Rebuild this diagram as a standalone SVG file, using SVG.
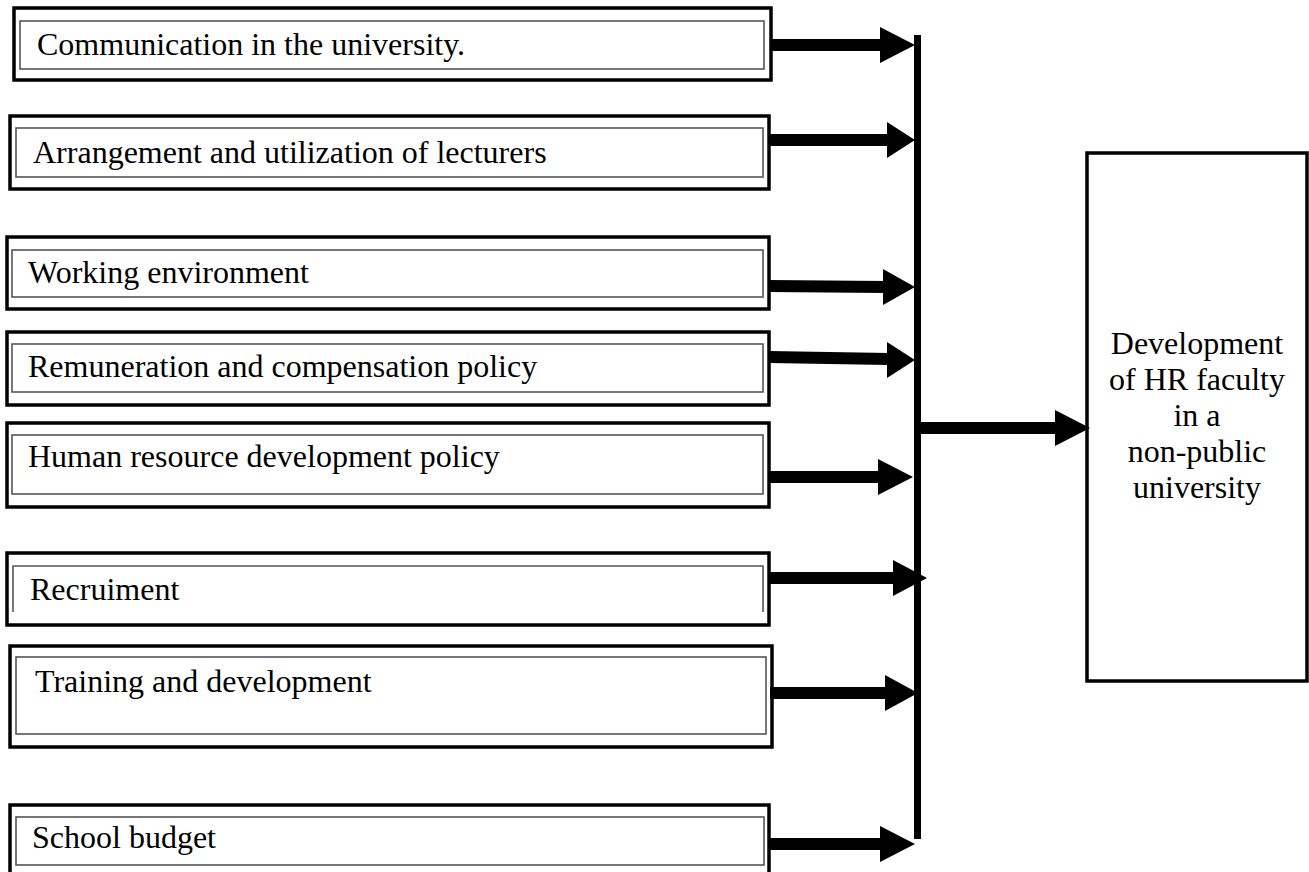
<svg xmlns="http://www.w3.org/2000/svg" width="1309" height="872" viewBox="0 0 1309 872">
<style>
.outer{fill:#fff;stroke:#000;stroke-width:3.5}
.inner{fill:none;stroke:#555;stroke-width:1.6}
.lbl{font-family:"Liberation Serif","Times New Roman",serif;font-size:32px;fill:#000}
.shaft{fill:none;stroke:#000;stroke-width:12}
.head{fill:#000}
</style>
<rect width="1309" height="872" fill="#fff"/>
<g id="n1">
<rect class="outer" x="14" y="8" width="757" height="72"/>
<rect class="inner" x="20" y="21" width="744" height="48"/>
<text class="lbl" x="37" y="55">Communication in the university.</text>
</g>
<g id="n2">
<rect class="outer" x="10" y="116" width="759" height="73"/>
<rect class="inner" x="16" y="128" width="747" height="49"/>
<text class="lbl" x="33" y="163">Arrangement and utilization of lecturers</text>
</g>
<g id="n3">
<rect class="outer" x="7" y="237" width="762" height="72"/>
<rect class="inner" x="12" y="250" width="751" height="47"/>
<text class="lbl" x="28" y="283">Working environment</text>
</g>
<g id="n4">
<rect class="outer" x="7" y="332" width="762" height="73"/>
<rect class="inner" x="12" y="344" width="751" height="48"/>
<text class="lbl" x="28" y="377">Remuneration and compensation policy</text>
</g>
<g id="n5">
<rect class="outer" x="7" y="423" width="762" height="84"/>
<rect class="inner" x="12" y="435" width="751" height="59"/>
<text class="lbl" x="28" y="467">Human resource development policy</text>
</g>
<g id="n6">
<rect class="outer" x="7" y="553" width="762" height="72"/>
<path class="inner" d="M13,612 V566 H763 V612"/>
<text class="lbl" x="30" y="600">Recruiment</text>
</g>
<g id="n7">
<rect class="outer" x="10" y="646" width="762" height="101"/>
<rect class="inner" x="16" y="657" width="750" height="77"/>
<text class="lbl" x="35" y="692">Training and development</text>
</g>
<g id="n8">
<rect class="outer" x="10" y="805" width="759" height="80"/>
<rect class="inner" x="16" y="817" width="748" height="48"/>
<text class="lbl" x="32" y="848">School budget</text>
</g>
<g id="target">
<rect class="outer" x="1087" y="153" width="220" height="528"/>
<text class="lbl" text-anchor="middle" x="1197" y="354">Development</text>
<text class="lbl" text-anchor="middle" x="1197" y="390">of HR faculty</text>
<text class="lbl" text-anchor="middle" x="1197" y="426">in a</text>
<text class="lbl" text-anchor="middle" x="1197" y="462">non-public</text>
<text class="lbl" text-anchor="middle" x="1197" y="498">university</text>
</g>
<g id="connectors">
<rect x="914" y="35" width="7" height="804" fill="#000"/>
<line class="shaft" x1="771" y1="45" x2="882" y2="45"/>
<polygon class="head" points="880,27 915,45 880,63"/>
<line class="shaft" x1="769" y1="140" x2="889" y2="140"/>
<polygon class="head" points="887,122 915,140 887,158"/>
<line class="shaft" x1="769" y1="286" x2="885" y2="287"/>
<polygon class="head" points="883,269 915,287 883,305"/>
<line class="shaft" x1="769" y1="357" x2="889" y2="359"/>
<polygon class="head" points="887,342 915,360 887,378"/>
<line class="shaft" x1="769" y1="477" x2="880" y2="477"/>
<polygon class="head" points="878,459 913,477 878,495"/>
<line class="shaft" x1="769" y1="578" x2="895" y2="578"/>
<polygon class="head" points="893,560 927,578 893,596"/>
<line class="shaft" x1="770" y1="693" x2="887" y2="693"/>
<polygon class="head" points="885,675 918,693 885,711"/>
<line class="shaft" x1="769" y1="844" x2="882" y2="844"/>
<polygon class="head" points="880,826 915,844 880,862"/>
<line class="shaft" x1="918" y1="428" x2="1057" y2="428"/>
<polygon class="head" points="1055,410 1090,428 1055,446"/>
</g>
</svg>
